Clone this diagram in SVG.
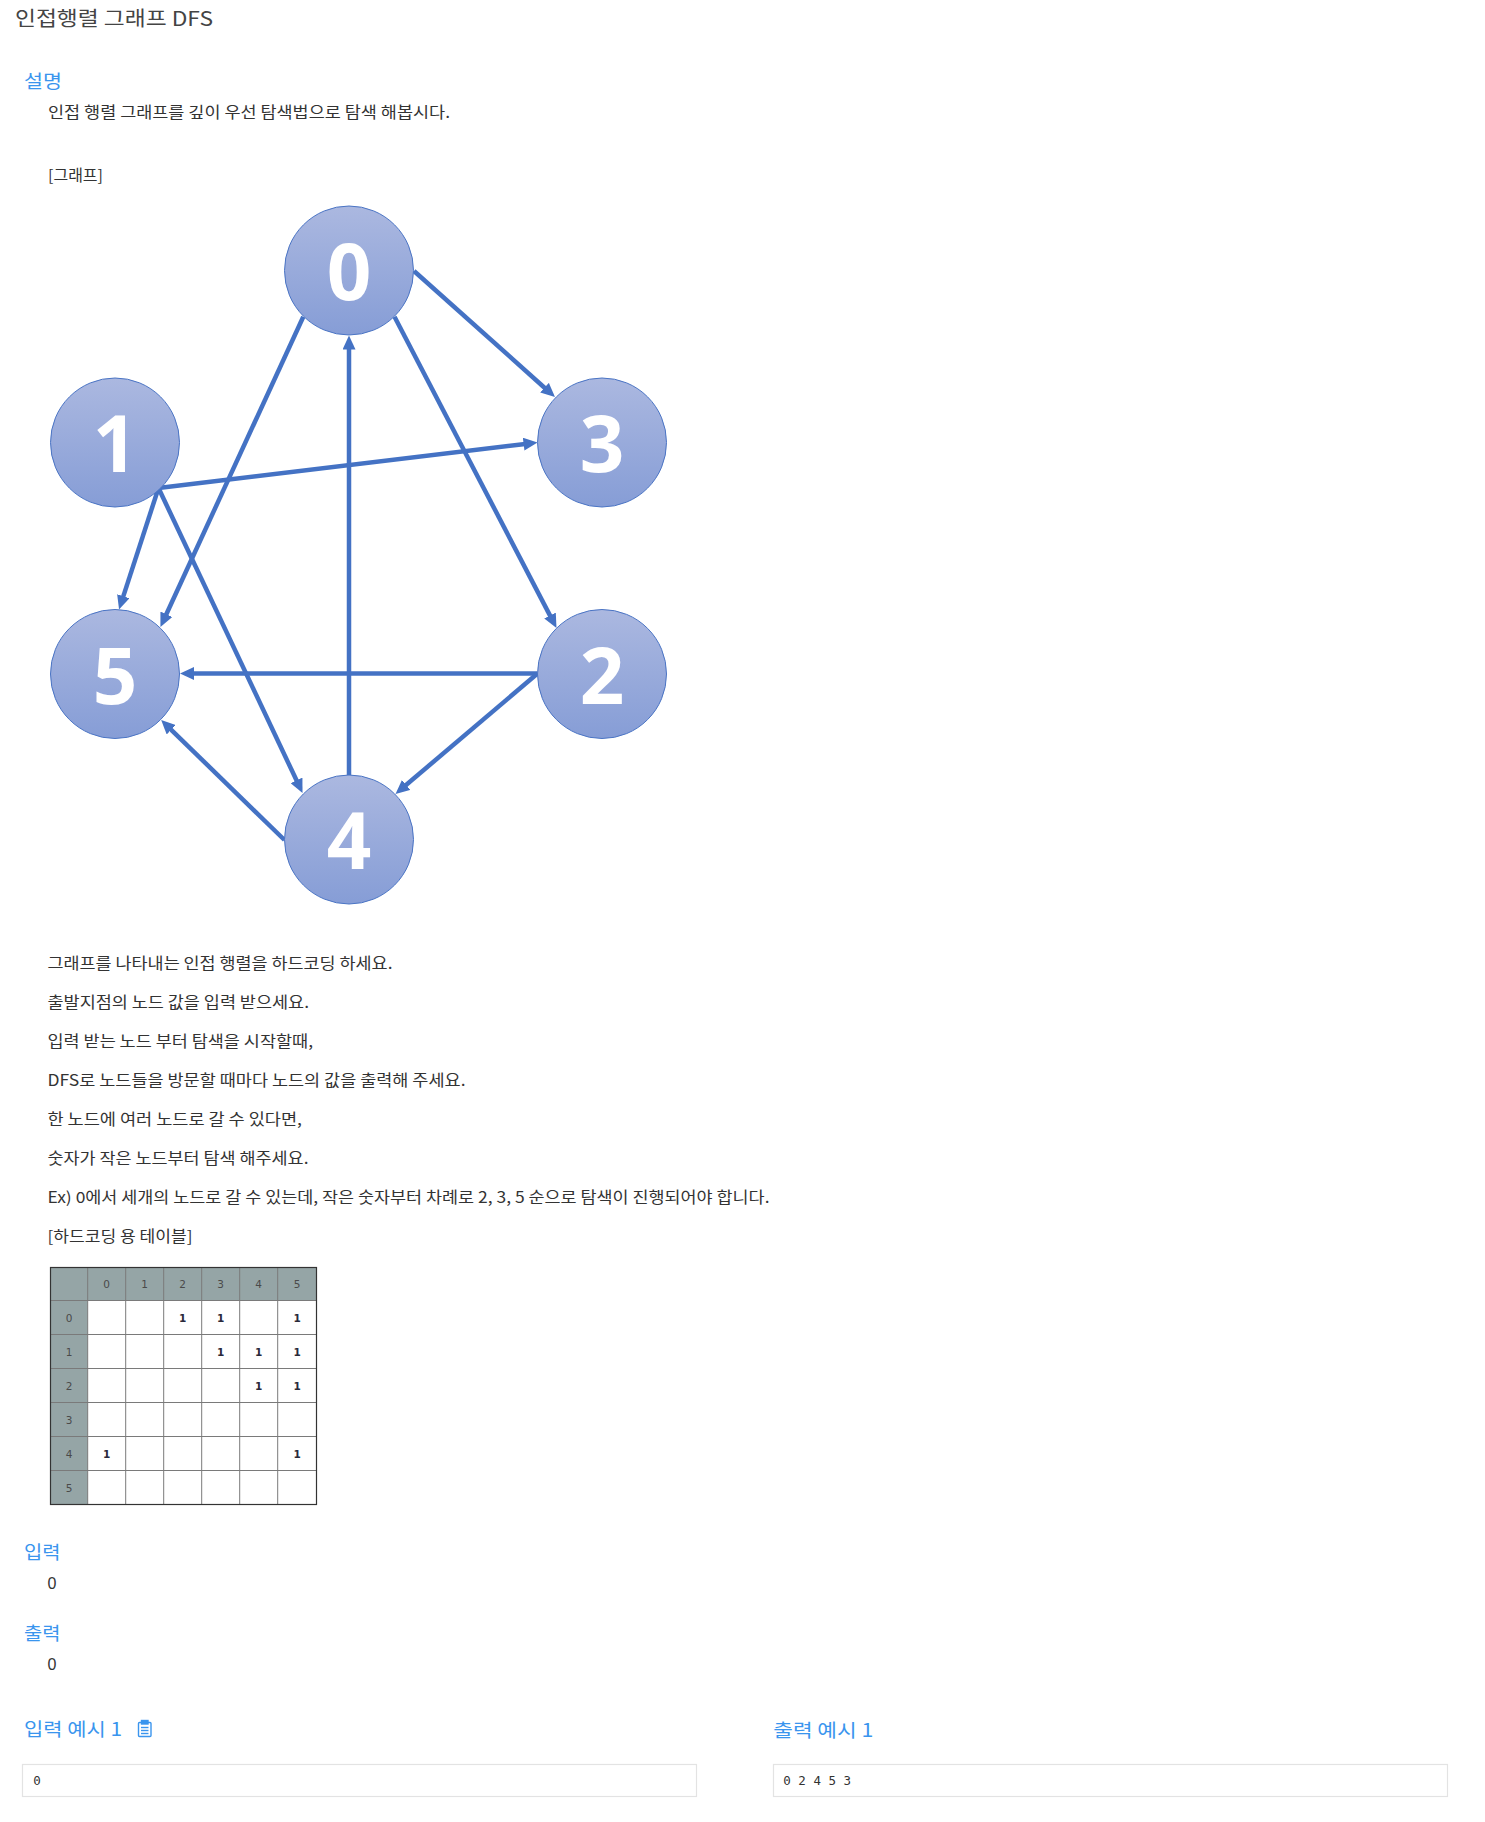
<svg xmlns="http://www.w3.org/2000/svg" width="1485" height="1822" viewBox="0 0 1485 1822">
<style>
  .kr { font-family: "Noto Sans CJK KR", "Noto Sans", sans-serif; }
  .title { font-size: 20px; fill: #444; }
  .head { font-size: 18.5px; fill: #3a95ee; }
  .body { font-size: 15.5px; fill: #333; }
  .num { font-family: "Liberation Sans", Arial, sans-serif; font-size: 16px; fill: #333; }
  .mono { font-family: "DejaVu Sans Mono", "Liberation Mono", monospace; font-size: 12.5px; fill: #333; }
  .node circle { fill: url(#ng); stroke: #4a74c4; stroke-width: 1; }
  .node text { font-family: "Open Sans", "Noto Sans", sans-serif; font-weight: bold; font-size: 78px; fill: #fff; text-anchor: middle; }
  .edge { stroke: #4472c4; stroke-width: 4.5; fill: none; marker-end: url(#ah); }
  .th { fill: #95a5a6; }
  .grid { stroke: #7a7a7a; stroke-width: 1; fill: none; }
  .tt { font-family: "DejaVu Sans", Verdana, sans-serif; font-size: 10.5px; fill: #4a4a4a; text-anchor: middle; }
  .tv { font-family: "DejaVu Sans", Verdana, sans-serif; font-size: 10.5px; font-weight: bold; fill: #2a2a3a; text-anchor: middle; }
  .box { fill: #fff; stroke: #e3e3e3; stroke-width: 1.2; }
</style>
<defs>
  <linearGradient id="ng" x1="0" y1="0" x2="0" y2="1">
    <stop offset="0" stop-color="#abb8e0"/>
    <stop offset="1" stop-color="#869dd6"/>
  </linearGradient>
  <marker id="ah" markerUnits="userSpaceOnUse" markerWidth="14" markerHeight="13" refX="6" refY="6.5" orient="auto">
    <path d="M0,0 L14,6.5 L0,13 z" fill="#4472c4"/>
  </marker>
</defs>

<rect width="1485" height="1822" fill="#fff"/>

<!-- header texts -->
<text class="kr title" x="15" y="26" textLength="198" lengthAdjust="spacingAndGlyphs">인접행렬 그래프 DFS</text>
<text class="kr head" x="24" y="87.5" textLength="38" lengthAdjust="spacingAndGlyphs">설명</text>
<text class="kr body" x="48" y="117.5" textLength="402" lengthAdjust="spacingAndGlyphs">인접 행렬 그래프를 깊이 우선 탐색법으로 탐색 해봅시다.</text>
<text class="kr body" x="48" y="181" textLength="55" lengthAdjust="spacingAndGlyphs">[그래프]</text>

<!-- connectors -->
<g id="edges">
  <line class="edge" x1="414" y1="271" x2="549" y2="391.7"/>
  <line class="edge" x1="158.5" y1="488" x2="529.6" y2="443.45"/>
  <line class="edge" x1="303.3" y1="316.7" x2="163.8" y2="619.7"/>
  <line class="edge" x1="394.5" y1="316.7" x2="552.8" y2="620.9"/>
  <line class="edge" x1="349" y1="775" x2="349" y2="343.5"/>
  <line class="edge" x1="158.5" y1="488" x2="121.5" y2="601.9"/>
  <line class="edge" x1="158.5" y1="488" x2="299.1" y2="785.8"/>
  <line class="edge" x1="537.5" y1="673.5" x2="188" y2="673.5"/>
  <line class="edge" x1="537.5" y1="673.5" x2="401.6" y2="788.8"/>
  <line class="edge" x1="284.5" y1="840" x2="166.9" y2="725.6"/>
</g>

<!-- nodes -->
<g id="node0" class="node"><circle cx="349" cy="270.5" r="64.5"/><text x="349" y="300">0</text></g>
<g id="node1" class="node"><circle cx="115" cy="442.5" r="64.5"/><text x="115" y="472">1</text></g>
<g id="node3" class="node"><circle cx="602" cy="442.5" r="64.5"/><text x="602" y="472">3</text></g>
<g id="node5" class="node"><circle cx="115" cy="674" r="64.5"/><text x="115" y="703.5">5</text></g>
<g id="node2" class="node"><circle cx="602" cy="674" r="64.5"/><text x="602" y="703.5">2</text></g>
<g id="node4" class="node"><circle cx="349" cy="839.5" r="64.5"/><text x="349" y="869">4</text></g>

<!-- description lines -->
<text class="kr body" x="47.5" y="968.5" textLength="345" lengthAdjust="spacingAndGlyphs">그래프를 나타내는 인접 행렬을 하드코딩 하세요.</text>
<text class="kr body" x="47.5" y="1007.5" textLength="261.5" lengthAdjust="spacingAndGlyphs">출발지점의 노드 값을 입력 받으세요.</text>
<text class="kr body" x="47.5" y="1046.5" textLength="265.5" lengthAdjust="spacingAndGlyphs">입력 받는 노드 부터 탐색을 시작할때,</text>
<text class="kr body" x="47.5" y="1085.5" textLength="418" lengthAdjust="spacingAndGlyphs">DFS로 노드들을 방문할 때마다 노드의 값을 출력해 주세요.</text>
<text class="kr body" x="47.5" y="1124.5" textLength="254.5" lengthAdjust="spacingAndGlyphs">한 노드에 여러 노드로 갈 수 있다면,</text>
<text class="kr body" x="47.5" y="1163.5" textLength="261" lengthAdjust="spacingAndGlyphs">숫자가 작은 노드부터 탐색 해주세요.</text>
<text class="kr body" x="47.5" y="1202.5" textLength="722" lengthAdjust="spacingAndGlyphs">Ex) 0에서 세개의 노드로 갈 수 있는데, 작은 숫자부터 차례로 2, 3, 5 순으로 탐색이 진행되어야 합니다.</text>
<text class="kr body" x="47.5" y="1241.5" textLength="145" lengthAdjust="spacingAndGlyphs">[하드코딩 용 테이블]</text>

<!-- table -->
<g id="table">
  <rect class="th" x="50.5" y="1267.5" width="266" height="33"/>
  <rect class="th" x="50.5" y="1267.5" width="37.2" height="237"/>
  <g class="grid">
    <line x1="87.7" y1="1267.5" x2="87.7" y2="1504.5"/>
    <line x1="125.7" y1="1267.5" x2="125.7" y2="1504.5"/>
    <line x1="163.7" y1="1267.5" x2="163.7" y2="1504.5"/>
    <line x1="201.7" y1="1267.5" x2="201.7" y2="1504.5"/>
    <line x1="239.7" y1="1267.5" x2="239.7" y2="1504.5"/>
    <line x1="277.7" y1="1267.5" x2="277.7" y2="1504.5"/>
    <line x1="50.5" y1="1300.5" x2="316.5" y2="1300.5"/>
    <line x1="50.5" y1="1334.5" x2="316.5" y2="1334.5"/>
    <line x1="50.5" y1="1368.5" x2="316.5" y2="1368.5"/>
    <line x1="50.5" y1="1402.5" x2="316.5" y2="1402.5"/>
    <line x1="50.5" y1="1436.5" x2="316.5" y2="1436.5"/>
    <line x1="50.5" y1="1470.5" x2="316.5" y2="1470.5"/>
  </g>
  <rect x="50.5" y="1267.5" width="266" height="237" fill="none" stroke="#333" stroke-width="1.2"/>
  <text class="tt" x="106.7" y="1288">0</text>
  <text class="tt" x="144.7" y="1288">1</text>
  <text class="tt" x="182.7" y="1288">2</text>
  <text class="tt" x="220.7" y="1288">3</text>
  <text class="tt" x="258.7" y="1288">4</text>
  <text class="tt" x="297.1" y="1288">5</text>
  <text class="tt" x="69.1" y="1321.5">0</text>
  <text class="tt" x="69.1" y="1355.5">1</text>
  <text class="tt" x="69.1" y="1389.5">2</text>
  <text class="tt" x="69.1" y="1423.5">3</text>
  <text class="tt" x="69.1" y="1457.5">4</text>
  <text class="tt" x="69.1" y="1491.5">5</text>
  <text class="tv" x="182.7" y="1321.5">1</text>
  <text class="tv" x="220.7" y="1321.5">1</text>
  <text class="tv" x="297.1" y="1321.5">1</text>
  <text class="tv" x="220.7" y="1355.5">1</text>
  <text class="tv" x="258.7" y="1355.5">1</text>
  <text class="tv" x="297.1" y="1355.5">1</text>
  <text class="tv" x="258.7" y="1389.5">1</text>
  <text class="tv" x="297.1" y="1389.5">1</text>
  <text class="tv" x="106.7" y="1457.5">1</text>
  <text class="tv" x="297.1" y="1457.5">1</text>
</g>

<!-- input / output -->
<text class="kr head" x="24" y="1558.5" textLength="36.5" lengthAdjust="spacingAndGlyphs">입력</text>
<text class="num" x="47.5" y="1589">0</text>
<text class="kr head" x="24" y="1639.5" textLength="36.5" lengthAdjust="spacingAndGlyphs">출력</text>
<text class="num" x="47.5" y="1670">0</text>

<text class="kr head" x="24" y="1736" textLength="98" lengthAdjust="spacingAndGlyphs">입력 예시 1</text>
<g id="copy-icon" fill="none" stroke="#3a95ee" stroke-width="1.4">
  <rect x="138.5" y="1722.5" width="12.5" height="14" rx="1"/>
  <rect x="141.5" y="1720.5" width="6.5" height="3.5" fill="#3a95ee"/>
  <line x1="141" y1="1727.5" x2="148.5" y2="1727.5"/>
  <line x1="141" y1="1730.5" x2="148.5" y2="1730.5"/>
  <line x1="141" y1="1733.5" x2="148.5" y2="1733.5"/>
</g>
<text class="kr head" x="773.3" y="1736.5" textLength="100" lengthAdjust="spacingAndGlyphs">출력 예시 1</text>

<g id="input-box">
  <rect class="box" x="22.5" y="1764.5" width="674" height="32"/>
  <text class="mono" x="33.3" y="1784.5">0</text>
</g>
<g id="output-box">
  <rect class="box" x="773.5" y="1764.5" width="674" height="32"/>
  <text class="mono" x="783.3" y="1784.5">0 2 4 5 3</text>
</g>
</svg>
